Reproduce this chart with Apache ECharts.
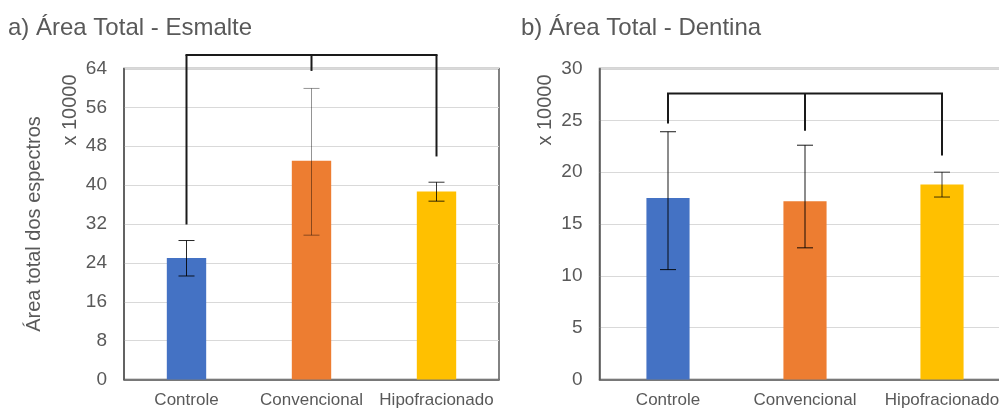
<!DOCTYPE html>
<html>
<head>
<meta charset="utf-8">
<script src="https://cdn.jsdelivr.net/npm/echarts@6/dist/echarts.min.js"></script>
<style>
html,body{margin:0;padding:0;background:#fff;}
#chart{width:999px;height:408px;}
</style>
</head>
<body>
<div id="chart"></div>
<script>
// ---- data ----
const categories = ['Controle', 'Convencional', 'Hipofracionado'];

const esmalteMean = [25.0, 45.0, 38.7];
const esmalteLow  = [21.3, 29.7, 36.7];
const esmalteHigh = [28.6, 59.9, 40.6];

const dentinaMean = [17.5, 17.2, 18.8];
const dentinaLow  = [10.6, 12.7, 17.6];
const dentinaHigh = [23.9, 22.6, 20.0];

const esmalteTicks = [0, 8, 16, 24, 32, 40, 48, 56, 64];
const dentinaTicks = [0, 5, 10, 15, 20, 25, 30];

// significance brackets (value units): horizontal level and leg ends per category
const esmalteBracketTop = 66.8;
const esmalteBracketEnds = [31.9, 63.5, 45.9];
const dentinaBracketTop = 27.6;
const dentinaBracketEnds = [24.7, 24.0, 21.6];

const titles = ['a) Área Total - Esmalte', 'b) Área Total - Dentina'];
const yName = 'Área total dos espectros';
const scaleNote = 'x 10000';

// ---- styles ----
const barColors = ['#4472C4', '#ED7D31', '#FFC000'];
const textColor = '#595959';
const FONT = 'Liberation Sans, Arial, sans-serif';

function errSeries(gridIdx, low, high, strokes) {
  return {
    type: 'custom',
    xAxisIndex: gridIdx, yAxisIndex: gridIdx,
    clip: false, z: 5, silent: true,
    encode: { x: 0, y: [1, 2] },
    data: categories.map((c, i) => [i, low[i], high[i]]),
    renderItem: function (params, api) {
      const i = api.value(0);
      const pHi = api.coord([i, api.value(2)]);
      const pLo = api.coord([i, api.value(1)]);
      const w = 8;
      const st = { stroke: strokes[params.dataIndex], lineWidth: 1 };
      return {
        type: 'group',
        children: [
          { type: 'line', shape: { x1: pHi[0], y1: pHi[1], x2: pLo[0], y2: pLo[1] }, style: st },
          { type: 'line', shape: { x1: pHi[0] - w, y1: pHi[1], x2: pHi[0] + w, y2: pHi[1] }, style: st },
          { type: 'line', shape: { x1: pLo[0] - w, y1: pLo[1], x2: pLo[0] + w, y2: pLo[1] }, style: st }
        ]
      };
    }
  };
}

function bracketSeries(gridIdx, top, ends) {
  return {
    type: 'custom',
    xAxisIndex: gridIdx, yAxisIndex: gridIdx,
    clip: false, z: 6, silent: true,
    encode: { x: 0, y: 1 },
    data: [[0, top]],
    renderItem: function (params, api) {
      const children = [];
      const a = api.coord([0, top]);
      const b = api.coord([ends.length - 1, top]);
      const st = { stroke: '#1a1a1a', lineWidth: 2, fill: null };
      children.push({ type: 'line', shape: { x1: a[0] - 1, y1: a[1], x2: b[0] + 1, y2: b[1] }, style: st });
      ends.forEach(function (v, i) {
        const p1 = api.coord([i, top]);
        const p2 = api.coord([i, v]);
        children.push({ type: 'line', shape: { x1: p1[0], y1: p1[1], x2: p2[0], y2: p2[1] }, style: st });
      });
      return { type: 'group', children: children };
    }
  };
}

function yAxis(gridIdx, ticks, withName) {
  return {
    type: 'value', gridIndex: gridIdx,
    min: ticks[0], max: ticks[ticks.length - 1], interval: ticks[1] - ticks[0],
    axisLine: { show: true, lineStyle: { color: '#595959', width: 1.5 } },
    axisTick: { show: false },
    splitLine: { lineStyle: { color: '#d9d9d9', width: 1 } },
    axisLabel: { color: textColor, fontSize: 19, fontFamily: FONT, margin: 17 },
    name: withName ? yName : '',
    nameLocation: 'middle', nameGap: 80,
    nameTextStyle: { color: textColor, fontSize: 20, fontFamily: FONT }
  };
}

function xAxis(gridIdx) {
  return {
    type: 'category', gridIndex: gridIdx, data: categories,
    axisLine: { show: true, lineStyle: { color: '#595959', width: 1.5 } },
    axisTick: { show: false },
    axisLabel: { color: textColor, fontSize: 17, fontFamily: FONT, margin: 12, interval: 0 }
  };
}

const chart = echarts.init(document.getElementById('chart'));
chart.setOption({
  animation: false,
  backgroundColor: '#fff',
  title: [
    { text: titles[0], left: 3, top: 11, textStyle: { color: textColor, fontSize: 24, fontWeight: 'normal', fontFamily: FONT } },
    { text: titles[1], left: 516, top: 11, textStyle: { color: textColor, fontSize: 24, fontWeight: 'normal', fontFamily: FONT } }
  ],
  graphic: [
    { type: 'text', x: 70, y: 110, rotation: Math.PI / 2, style: { text: scaleNote, fill: textColor, font: '20px ' + FONT, align: 'center', verticalAlign: 'middle' } },
    { type: 'text', x: 545, y: 110, rotation: Math.PI / 2, style: { text: scaleNote, fill: textColor, font: '20px ' + FONT, align: 'center', verticalAlign: 'middle' } }
  ],
  grid: [
    { left: 124, right: 500, top: 68.5, bottom: 28.5, show: true, borderColor: '#595959', borderWidth: 1.5, outerBoundsMode: 'none', containLabel: false },
    { left: 599.5, right: -11.5, top: 68.5, bottom: 28.5, show: true, borderColor: '#595959', borderWidth: 1.5, outerBoundsMode: 'none', containLabel: false }
  ],
  xAxis: [xAxis(0), xAxis(1)],
  yAxis: [yAxis(0, esmalteTicks, true), yAxis(1, dentinaTicks, false)],
  series: [
    {
      type: 'bar', xAxisIndex: 0, yAxisIndex: 0, barWidth: '31.5%',
      data: esmalteMean.map((v, i) => ({ value: v, itemStyle: { color: barColors[i] } }))
    },
    {
      type: 'bar', xAxisIndex: 1, yAxisIndex: 1, barWidth: '31.5%',
      data: dentinaMean.map((v, i) => ({ value: v, itemStyle: { color: barColors[i] } }))
    },
    errSeries(0, esmalteLow, esmalteHigh, ['rgba(0,0,0,0.85)', 'rgba(0,0,0,0.42)', 'rgba(0,0,0,0.8)']),
    errSeries(1, dentinaLow, dentinaHigh, ['rgba(0,0,0,0.9)', 'rgba(0,0,0,0.9)', 'rgba(0,0,0,0.75)']),
    bracketSeries(0, esmalteBracketTop, esmalteBracketEnds),
    bracketSeries(1, dentinaBracketTop, dentinaBracketEnds)
  ]
});
</script>
</body>
</html>
